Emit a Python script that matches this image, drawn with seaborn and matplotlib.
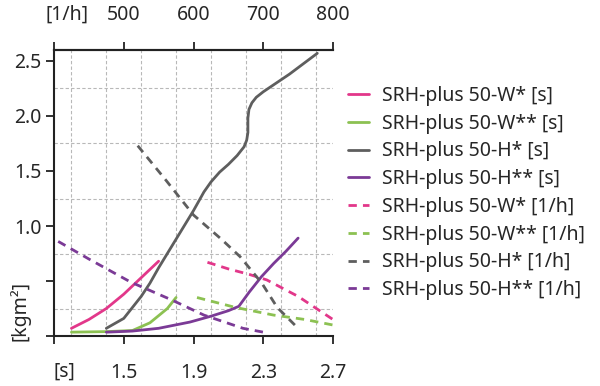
import pandas as pd
import matplotlib
matplotlib.use("Agg")
import matplotlib.pyplot as plt
from matplotlib.ticker import MultipleLocator, FixedLocator
import seaborn as sns

# Werte
# Kurven über der Periode [s] (untere Achse)
w1_s_x = [1.2, 1.3, 1.4, 1.5, 1.6, 1.7]
w1_s_y = [0.07, 0.15, 0.25, 0.38, 0.53, 0.68]
w2_s_x = [1.2, 1.4, 1.55, 1.65, 1.75, 1.8]
w2_s_y = [0.035, 0.04, 0.05, 0.12, 0.25, 0.35]
h1_s_x = [1.4, 1.5, 1.6, 1.65, 1.7, 1.8, 1.9, 1.96, 2.0, 2.05, 2.1, 2.15, 2.19, 2.205, 2.212,
          2.212, 2.218, 2.235, 2.26, 2.3, 2.45, 2.61]
h1_s_y = [0.07, 0.16, 0.36, 0.48, 0.62, 0.88, 1.14, 1.31, 1.40, 1.49, 1.56, 1.64, 1.72, 1.78, 1.85,
          1.98, 2.06, 2.12, 2.17, 2.22, 2.38, 2.57]
h2_s_x = [1.4, 1.55, 1.7, 1.88, 2.0, 2.1, 2.16, 2.22, 2.29, 2.36, 2.43, 2.5]
h2_s_y = [0.035, 0.045, 0.07, 0.127, 0.18, 0.23, 0.27, 0.40, 0.54, 0.66, 0.77, 0.89]

# Kurven über der Frequenz [1/h] (obere Achse)
w1_h_x = [620, 650, 680, 705, 750, 800]
w1_h_y = [0.67, 0.61, 0.56, 0.51, 0.36, 0.15]
w2_h_x = [605, 660, 715, 760, 800]
w2_h_y = [0.35, 0.26, 0.19, 0.15, 0.10]
h1_h_x = [520, 560, 600, 640, 667, 698, 720, 750]
h1_h_y = [1.73, 1.42, 1.10, 0.88, 0.72, 0.48, 0.26, 0.07]
h2_h_x = [406, 450, 510, 568, 615, 671, 700]
h2_h_y = [0.86, 0.70, 0.49, 0.33, 0.19, 0.07, 0.035]

labels = ["SRH-plus 50-W*", "SRH-plus 50-W**", "SRH-plus 50-H*", "SRH-plus 50-H**"]
farben = ["#e2378a", "#8cc152", "#5e5e5e", "#7b3a96"]

sns.set_style("ticks")
plt.rcParams['font.family'] = ['Noto Sans', 'DejaVu Sans']
plt.rcParams['font.size'] = 14

fig = plt.figure(figsize=(6, 3.86), dpi=100)
ax = fig.add_axes([0.09, 0.1295, 0.465, 0.741])
ax2 = ax.twiny()

serien_s = [(w1_s_x, w1_s_y), (w2_s_x, w2_s_y), (h1_s_x, h1_s_y), (h2_s_x, h2_s_y)]
serien_h = [(w1_h_x, w1_h_y), (w2_h_x, w2_h_y), (h1_h_x, h1_h_y), (h2_h_x, h2_h_y)]

handles = []
for (x, y), lab, c in zip(serien_s, labels, farben):
    df = pd.DataFrame({"x": x, "y": y})
    sns.lineplot(data=df, x="x", y="y", ax=ax, color=c, lw=2, sort=False, estimator=None)
    handles.append((ax.lines[-1], lab + " [s]"))

for (x, y), lab, c in zip(serien_h, labels, farben):
    df = pd.DataFrame({"x": x, "y": y})
    sns.lineplot(data=df, x="x", y="y", ax=ax2, color=c, lw=2, sort=False, estimator=None)
    ax2.lines[-1].set_dashes((3, 2.2))
    handles.append((ax2.lines[-1], lab + " [1/h]"))

# Achsen
ax.set_xlim(1.1, 2.7)
ax.set_ylim(0, 2.6)
ax2.set_xlim(400, 800)
ax.set_xlabel("")
ax.set_ylabel("")
ax2.set_xlabel("")

ax.xaxis.set_major_locator(FixedLocator([1.1, 1.5, 1.9, 2.3, 2.7]))
ax.set_xticklabels(["", "1.5", "1.9", "2.3", "2.7"])
ax.xaxis.set_minor_locator(MultipleLocator(0.2))
ax.yaxis.set_major_locator(FixedLocator([0, 0.5, 1.0, 1.5, 2.0, 2.5]))
ax.set_yticklabels(["", "", "1.0", "1.5", "2.0", "2.5"])
ax.yaxis.set_minor_locator(MultipleLocator(0.25))
ax2.xaxis.set_major_locator(FixedLocator([400, 500, 600, 700, 800]))
ax2.set_xticklabels(["", "500", "600", "700", "800"])

ax.tick_params(axis="x", which="major", length=6, width=1.3, pad=13.5, color="#222222")
ax.tick_params(axis="y", which="major", length=6, width=1.3, pad=3, color="#222222")
ax.tick_params(which="minor", length=0)
ax2.tick_params(axis="x", which="major", length=6, width=1.3, pad=12, color="#222222")

ax.grid(which="minor", color="#b8b8b8", lw=0.8, ls=(0, (3, 2)))
ax.grid(which="major", visible=False)

for a in (ax, ax2):
    a.spines["right"].set_visible(False)
    for s in ("left", "bottom", "top"):
        a.spines[s].set_linewidth(1.5)
        a.spines[s].set_color("#222222")
ax2.spines["bottom"].set_visible(False)
ax2.spines["left"].set_visible(False)

# Einheiten-Beschriftungen
fig.text(67 / 600, 1 - 15 / 386, "[1/h]", ha="center", va="center")
fig.text(64 / 600, 1 - 372 / 386, "[s]", ha="center", va="center")
fig.text(20 / 600, 1 - 311 / 386, "[kgm²]", ha="center", va="center", rotation=90)

fig.legend([h for h, _ in handles], [l for _, l in handles], loc="center left",
           bbox_to_anchor=(0.567, 1 - 193 / 386), frameon=False, handlelength=1.1,
           handletextpad=0.65, labelspacing=0.4, borderaxespad=0)

plt.savefig("out.png", dpi=100)
